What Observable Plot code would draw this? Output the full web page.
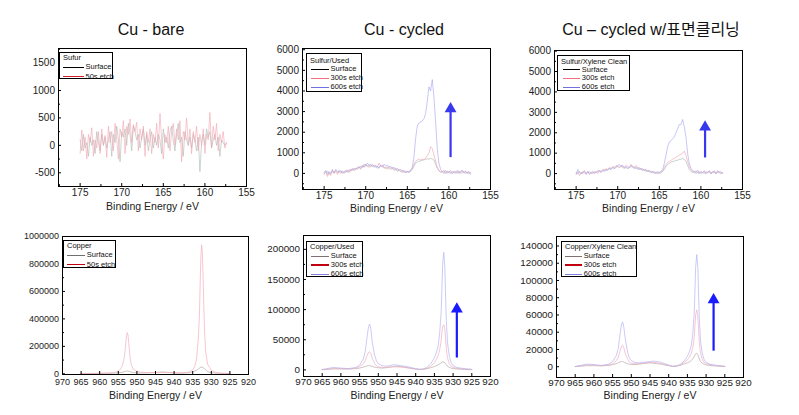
<!DOCTYPE html>
<html><head><meta charset="utf-8">
<script src="https://cdn.jsdelivr.net/npm/d3@7"></script>
<script src="https://cdn.jsdelivr.net/npm/@observablehq/plot@0.6"></script>
<style>
body{margin:0;background:#fff;}
#root{position:relative;width:799px;height:415px;overflow:hidden;font-family:"Liberation Sans",Arial,"Noto Sans CJK KR",sans-serif;background:#fff;}
.title{position:absolute;font-size:16px;line-height:16px;transform:translateX(-50%);white-space:nowrap;color:#111;}
.panel{position:absolute;}
.legend{position:absolute;border:1px solid #000;background:#fff;font-size:7.5px;color:#111;box-sizing:border-box;}
.legend .t{position:absolute;white-space:nowrap;line-height:8px;transform:translateY(-50%);}
.legend .l{position:absolute;}
</style></head>
<body><div id="root"></div>
<script>
// ---------- titles ----------
const titles = ["Cu - bare", "Cu - cycled", "Cu – cycled w/표면클리닝"];
const axisLabel = "Binding Energy / eV";

// ---------- legends ----------
const legendTitles = ["Sufur", "Sulfur/Used", "Sulfur/Xylene Clean", "Copper", "Copper/Used", "Copper/Xylene Clean"];
const legendBare = ["Surface", "50s etch"];
const legendCycled = ["Surface", "300s etch", "600s etch"];

// ---------- ticks ----------
const sulfurXTicks = [175, 170, 165, 160, 155];
const sulfurXMinor = [177.5, 172.5, 167.5, 162.5, 157.5];
const sulfurBareYTicks = [-500, 0, 500, 1000, 1500];
const sulfurBareYMinor = [-750, -250, 250, 750, 1250, 1750];
const sulfurYTicks = [0, 1000, 2000, 3000, 4000, 5000, 6000];
const sulfurYMinor = [-500, 500, 1500, 2500, 3500, 4500, 5500];
const copperXTicks = [970, 965, 960, 955, 950, 945, 940, 935, 930, 925, 920];
const copperBareYTicks = [0, 200000, 400000, 600000, 800000, 1000000];
const copperBareYMinor = [100000, 300000, 500000, 700000, 900000];
const copperUsedYTicks = [0, 50000, 100000, 150000, 200000];
const copperUsedYMinor = [25000, 75000, 125000, 175000];
const copperCleanYTicks = [0, 20000, 40000, 60000, 80000, 100000, 120000, 140000];
const copperCleanYMinor = [10000, 30000, 50000, 70000, 90000, 110000, 130000];

// ---------- sulfur 2p spectra (energy grid 175 eV down, 0.2 eV step) ----------
const sulfurStart = 175, sulfurStep = 0.2;
const sBareSurface = [
 100,-100,200,-50,50,-200,150,0,100,-150,
 250,50,-100,200,0,150,-50,100,250,-200,
 200,50,350,100,-300,250,150,300,0,400,
 200,-100,350,250,100,200,-50,150,300,0,
 200,-100,100,250,-50,150,0,200,100,-150,
 300,50,150,-50,250,350,100,-100,200,400,
 50,150,-200,250,100,0,150,-50,200,100,
 -100,150,-480,50,200,0,300,150,250,-50,
 100,200,0,150,-200,100,50,0,50];
const sBareEtch50 = [
 -150,280,-100,150,-250,200,50,320,-200,100,
 -50,250,-150,300,0,180,-220,350,50,250,
 -100,400,100,-250,300,150,450,-150,350,200,
 480,50,380,250,420,-100,300,100,350,-200,
 250,50,300,-150,200,50,400,-50,580,100,
 -250,200,50,350,-100,250,400,0,300,100,
 450,-300,250,100,500,0,300,-150,250,50,
 350,-100,200,0,300,-150,200,100,600,-50,
 350,100,400,-100,200,50,250,-50,50];
const sUsedSurface = [
 0,50,100,-50,50,100,0,150,50,100,
 0,100,50,150,100,50,150,200,150,250,
 200,300,250,350,300,400,350,300,400,350,
 300,350,250,300,400,350,300,250,300,250,
 200,250,150,200,100,150,100,50,100,50,
 100,50,100,200,350,500,550,600,600,650,
 650,700,700,700,720,700,650,450,250,120,
 50,100,0,50,100,50,0,100,50,0,
 50,100,0,50,100,0,50,100,0];
const sUsedEtch300 = [
 -50,100,-150,50,-100,200,0,100,-50,150,
 50,100,0,150,50,200,100,250,150,200,
 250,350,200,400,300,450,350,400,300,450,
 350,400,300,500,350,400,250,300,200,350,
 250,300,200,250,150,200,100,150,50,100,
 50,100,150,250,450,600,650,700,650,700,
 650,750,850,1000,1300,1200,900,600,300,150,
 100,50,150,0,100,50,150,0,50,100,
 0,100,50,150,0,100,50,0,50];
const sUsedEtch600 = [
 50,150,-50,100,0,150,50,200,100,50,
 150,0,100,50,150,100,200,150,250,200,
 300,250,350,300,450,350,500,400,450,350,
 400,300,350,250,400,300,450,350,400,300,
 350,250,300,200,250,150,200,100,150,50,
 100,50,150,300,800,1700,2300,2450,2500,2550,
 2650,2900,3500,4200,4000,4550,3700,2500,1200,500,
 200,100,50,150,0,100,50,0,100,50,
 150,0,100,150,50,100,0,50,-50];
const sCleanSurface = [
 50,0,100,0,50,100,0,50,100,0,
 50,100,50,100,150,100,150,200,150,200,
 250,200,300,250,300,350,300,350,300,250,
 300,250,300,350,300,250,300,200,250,200,
 150,200,100,150,100,50,100,50,0,50,
 0,50,100,200,350,450,500,550,600,600,
 650,650,700,700,750,700,600,400,200,100,
 50,100,0,50,100,0,50,100,0,50,
 100,0,50,100,0,50,100,0,50];
const sCleanEtch300 = [
 0,100,-100,50,0,150,0,100,-50,50,
 0,50,100,0,150,100,200,150,250,200,
 300,250,350,300,400,350,300,400,350,300,
 400,350,300,450,350,300,400,250,300,200,
 250,150,200,100,150,100,50,100,50,0,
 50,100,150,300,450,550,600,650,700,750,
 800,850,900,950,1000,1100,900,600,350,200,
 100,50,150,50,0,100,50,150,0,50,
 100,0,50,150,0,100,50,0,50];
const sCleanEtch600 = [
 -50,200,50,0,100,50,-50,100,0,50,
 100,0,50,150,100,50,150,100,200,150,
 250,200,300,250,350,400,450,350,400,300,
 350,250,300,400,350,300,250,300,200,250,
 200,150,200,100,150,50,100,0,50,100,
 50,100,200,500,900,1300,1550,1600,1700,1800,
 2000,2200,2400,2400,2650,2300,1800,1000,500,250,
 150,100,50,150,0,100,50,0,100,50,
 150,0,100,50,0,150,50,100,0];

// ---------- copper 2p spectra ----------
const cuBareEtchE = [965,962,960,958,956,955,954.5,954,953.5,953.2,953,952.8,952.6,952.4,952.2,952,951.8,951.5,951,950,949,948,946,944,942,940,938,936,935,934.5,934,933.5,933.2,933,932.8,932.6,932.4,932.2,932,931.8,931.5,931,930,929,928,926,925];
const cuBareEtch50 = [2000,3000,4000,6000,10000,20000,32000,55000,100000,160000,220000,275000,300000,285000,230000,165000,110000,65000,35000,18000,12000,10000,9000,9000,9000,8000,8000,12000,30000,50000,100000,250000,420000,650000,850000,940000,880000,700000,480000,300000,160000,70000,25000,12000,6000,3000,2000];
const cuBareSurfE = [965,960,956,954,953.5,953,952.5,952,951.5,951,950,948,946,944,943,942,940,938,936,935,934,933.5,933,932.5,932,931.5,931,930,928,925];
const cuBareSurface = [2000,3000,5000,10000,14000,18000,20000,17000,12000,9000,6000,6000,8000,12000,13000,11000,6000,4000,8000,14000,25000,35000,45000,50000,42000,28000,16000,8000,4000,2000];

const cuGridE = [965,963,962,960,958,956,955,954,953.5,953,952.6,952.3,952,951.6,951,950.5,950,949,948,947,946,945,944,943,942,941,940,939,938,937,936,935,934.5,934,933.6,933.2,933,932.8,932.5,932.2,932,931.8,931.5,931,930.5,930,929,928,927,926,925];
const cuUsedSurface = [200,1000,1500,1500,1500,2000,3000,4500,5500,6500,7000,7000,6500,5500,4500,4000,3500,3000,3500,4500,5500,6000,5500,4500,3500,2500,1500,800,1000,2000,3500,5500,7000,8500,10000,11500,12500,13000,13000,12000,10500,8500,6000,4000,3000,2000,1500,1000,800,500,300];
const cuUsedEtch300 = [300,2000,2500,2000,1500,3000,5500,10000,15000,24000,29000,30000,27000,19000,11000,7000,5000,4000,4000,4500,5000,5000,4500,4000,3000,2000,1200,500,800,2500,6000,12000,17000,24000,33000,48000,62000,72000,75000,68000,50000,35000,20000,10000,6000,4000,2500,2000,1500,1000,500];
const cuUsedEtch600 = [500,3000,4000,3000,2000,4000,8000,18000,30000,55000,72000,76000,68000,45000,25000,15000,10000,7000,6000,7000,8500,8000,7000,6000,5000,3500,2000,1000,1500,4000,10000,20000,28000,40000,60000,95000,135000,175000,195000,170000,120000,80000,45000,22000,12000,7000,4000,3000,2000,1500,1000];
const cuCleanSurface = [100,800,1200,1200,1000,1500,2500,3500,4500,5500,6000,6000,5500,4500,3500,3000,2500,2500,3000,3500,4000,4500,4000,3500,3000,2000,1200,500,700,1500,3000,4500,5500,7000,9000,11500,13500,15000,15500,14000,11500,9000,6000,4000,3000,2000,1500,1000,700,400,200];
const cuCleanEtch300 = [200,1500,2000,1800,1200,2000,3500,7000,11000,18000,24000,25000,22000,15000,9000,5500,4000,3500,3500,4000,4500,5000,5000,4500,3500,2500,1500,400,600,2000,4500,8000,11000,15000,21000,33000,46000,60000,66000,58000,42000,28000,16000,8000,5000,3500,2500,1800,1200,800,400];
const cuCleanEtch600 = [300,2000,3000,2500,1500,3000,6000,13000,21000,38000,50000,52000,46000,32000,17000,10000,7000,5000,4500,5000,5500,6000,6500,6000,5000,3500,2000,500,800,2500,6000,12000,17000,24000,36000,60000,85000,115000,130000,115000,82000,55000,30000,15000,8000,5000,3000,2000,1500,1000,500];

// ---------- arrows (x, tail y, head y) ----------
const arrowSulfurUsed = [159.8, 790, 3130];
const arrowSulfurClean = [159.5, 790, 2280];
const arrowCopperUsed = [929, 20500, 101000];
const arrowCopperClean = [928, 18600, 77500];

// ---------- colours ----------
const C = {
  sGray: "#a9b8b2", sPink: "#f4a4b0", sBlue: "#a8a8f4",
  cGray: "#b8aaaa", cPink: "#f2afbd", cBlue: "#b4b4f2",
  arrowTop: "#3838ee", arrowBottom: "#1a1aff"
};

function grid(values) { return values.map((v, i) => ({x: +(sulfurStart - i * sulfurStep).toFixed(2), y: v})); }
function zip(xs, ys) { return xs.map((x, i) => ({x, y: ys[i]})); }

const root = document.getElementById("root");
const font = "'Liberation Sans', Arial, sans-serif";

function panel(p) {
  const [fl, ft, fr, fb] = p.frame;
  const ml = 52, mr = 12, mt = 10, mb = 36;
  const marks = [];
  for (const s of p.series) marks.push(Plot.line(s.data, {x: "x", y: "y", stroke: s.color, strokeWidth: p.lw || 0.7}));
  if (p.arrow) {
    const a = [{x: p.arrow[0], y1: p.arrow[1], y2: p.arrow[2]}];
    marks.push(Plot.link(a, {x1: "x", x2: "x", y1: "y1", y2: "y2", stroke: p.arrowColor, strokeWidth: 2.2}));
    marks.push(Plot.dot(a, {x: "x", y: "y2", symbol: "triangle", r: 4.4, fill: p.arrowColor, stroke: "none"}));
  }
  marks.push(Plot.frame({stroke: "#000", strokeWidth: 1}));
  marks.push(Plot.axisX({ticks: p.xTicks, tickSize: -3, tickPadding: p.xPad || 5, fontSize: p.fs || 10, tickFormat: d => String(d), label: null, stroke: "#000", fill: "#222"}));
  if (p.xMinor) marks.push(Plot.axisX({ticks: p.xMinor, tickSize: -2, tickFormat: () => "", label: null}));
  marks.push(Plot.axisY({ticks: p.yTicks, tickSize: -3, tickPadding: 6.5, fontSize: p.fs || 10, tickFormat: d => String(d), label: null, fill: "#222"}));
  marks.push(Plot.axisY({ticks: p.yMinor, tickSize: -2, tickFormat: () => "", label: null}));
  marks.push(Plot.text([axisLabel], {frameAnchor: "bottom", dy: p.labelDy, text: d => d, fontSize: 10.5, fill: "#222"}));
  const chart = Plot.plot({
    width: (fr - fl) + ml + mr, height: (fb - ft) + mt + mb,
    marginLeft: ml, marginRight: mr, marginTop: mt, marginBottom: mb,
    x: {domain: p.xDomain}, y: {domain: p.yDomain},
    style: {fontFamily: font, background: "transparent", overflow: "visible"},
    marks
  });
  const wrap = document.createElement("div");
  wrap.className = "panel";
  wrap.style.left = (fl - ml) + "px";
  wrap.style.top = (ft - mt) + "px";
  wrap.appendChild(chart);
  root.appendChild(wrap);
}

function legend(box, title, labels, colors, widths, rows, line) {
  const d = document.createElement("div");
  d.className = "legend";
  Object.assign(d.style, {left: box[0] + "px", top: box[1] + "px", width: box[2] + "px", height: box[3] + "px"});
  const t = document.createElement("div");
  t.className = "t"; t.textContent = title;
  Object.assign(t.style, {left: "3px", top: rows[0] + "px"});
  d.appendChild(t);
  labels.forEach((lab, i) => {
    const ln = document.createElement("div");
    ln.className = "l";
    const w = widths[i];
    Object.assign(ln.style, {left: line[0] + "px", width: (line[1] - line[0]) + "px", top: (rows[i + 1] - w / 2) + "px", height: w + "px", background: colors[i]});
    d.appendChild(ln);
    const tx = document.createElement("div");
    tx.className = "t"; tx.textContent = lab;
    Object.assign(tx.style, {left: (line[1] + 1.5) + "px", top: rows[i + 1] + "px"});
    d.appendChild(tx);
  });
  root.appendChild(d);
}

// titles
[[151, 22], [404, 22], [651, 22]].forEach((pos, i) => {
  const t = document.createElement("div");
  t.className = "title"; t.textContent = titles[i];
  t.style.left = pos[0] + "px"; t.style.top = pos[1] + "px";
  root.appendChild(t);
});

panel({frame: [58, 48, 246, 186], xDomain: [177.6, 155], yDomain: [-750, 1765], lw: 0.6,
  xTicks: sulfurXTicks, xMinor: sulfurXMinor, yTicks: sulfurBareYTicks, yMinor: sulfurBareYMinor, labelDy: 23,
  series: [{data: grid(sBareSurface), color: C.sGray}, {data: grid(sBareEtch50), color: C.sPink}]});
panel({frame: [302, 48, 490, 189], xDomain: [177.6, 155], yDomain: [-780, 6060], lw: 0.65,
  xTicks: sulfurXTicks, xMinor: sulfurXMinor, yTicks: sulfurYTicks, yMinor: sulfurYMinor, labelDy: 22,
  series: [{data: grid(sUsedSurface), color: C.sGray}, {data: grid(sUsedEtch300), color: C.sPink}, {data: grid(sUsedEtch600), color: C.sBlue}],
  arrow: arrowSulfurUsed, arrowColor: C.arrowTop});
panel({frame: [554, 50, 742, 189], xDomain: [177.6, 155], yDomain: [-780, 6030], lw: 0.65,
  xTicks: sulfurXTicks, xMinor: sulfurXMinor, yTicks: sulfurYTicks, yMinor: sulfurYMinor, labelDy: 22,
  series: [{data: grid(sCleanSurface), color: C.sGray}, {data: grid(sCleanEtch300), color: C.sPink}, {data: grid(sCleanEtch600), color: C.sBlue}],
  arrow: arrowSulfurClean, arrowColor: C.arrowTop});
panel({frame: [62, 236, 248, 374], xDomain: [970, 920], yDomain: [-5000, 1000000], fs: 9, xPad: 7.5, lw: 0.7,
  xTicks: copperXTicks, yTicks: copperBareYTicks, yMinor: copperBareYMinor, labelDy: 24,
  series: [{data: zip(cuBareSurfE, cuBareSurface), color: C.cGray}, {data: zip(cuBareEtchE, cuBareEtch50), color: C.cPink}]});
panel({frame: [303, 235, 490, 376], xDomain: [970, 920], yDomain: [-11000, 223000], fs: 9.8, lw: 0.7,
  xTicks: copperXTicks, yTicks: copperUsedYTicks, yMinor: copperUsedYMinor, labelDy: 22,
  series: [{data: zip(cuGridE, cuUsedSurface), color: C.cGray}, {data: zip(cuGridE, cuUsedEtch300), color: C.cPink}, {data: zip(cuGridE, cuUsedEtch600), color: C.cBlue}],
  arrow: arrowCopperUsed, arrowColor: C.arrowBottom});
panel({frame: [556, 236, 743, 377], xDomain: [970, 920], yDomain: [-12500, 151000], fs: 9.8, lw: 0.7,
  xTicks: copperXTicks, yTicks: copperCleanYTicks, yMinor: copperCleanYMinor, labelDy: 21,
  series: [{data: zip(cuGridE, cuCleanSurface), color: C.cGray}, {data: zip(cuGridE, cuCleanEtch300), color: C.cPink}, {data: zip(cuGridE, cuCleanEtch600), color: C.cBlue}],
  arrow: arrowCopperClean, arrowColor: C.arrowBottom});

// legends
legend([59, 52, 54, 27], legendTitles[0], legendBare, ["#000", "#d0202c"], [1, 1], [5, 14, 23.5], [3, 24]);
legend([306, 53, 56, 39], legendTitles[1], legendCycled, ["#000", "#f07080", "#7070e0"], [1, 1, 1], [7, 15.3, 24.3, 33], [4, 22]);
legend([557, 55, 73, 36], legendTitles[2], legendCycled, ["#000", "#f07080", "#7070e0"], [1, 1, 1], [5.5, 13.5, 22.3, 31], [4.7, 22.3]);
legend([63, 240, 53, 28], legendTitles[3], legendBare, ["#707070", "#c00010"], [1, 1.6], [5, 14.3, 23.7], [2.7, 21.3]);
legend([306, 241, 57, 36], legendTitles[4], legendCycled, ["#807070", "#c00010", "#8080e0"], [1, 1.6, 1], [5, 14, 23, 32], [4, 22.3]);
legend([561, 241, 76, 36], legendTitles[5], legendCycled, ["#807070", "#c00010", "#8080e0"], [1, 1.6, 1], [5, 14, 23, 32], [2.6, 20.3]);
</script>
</body></html>
